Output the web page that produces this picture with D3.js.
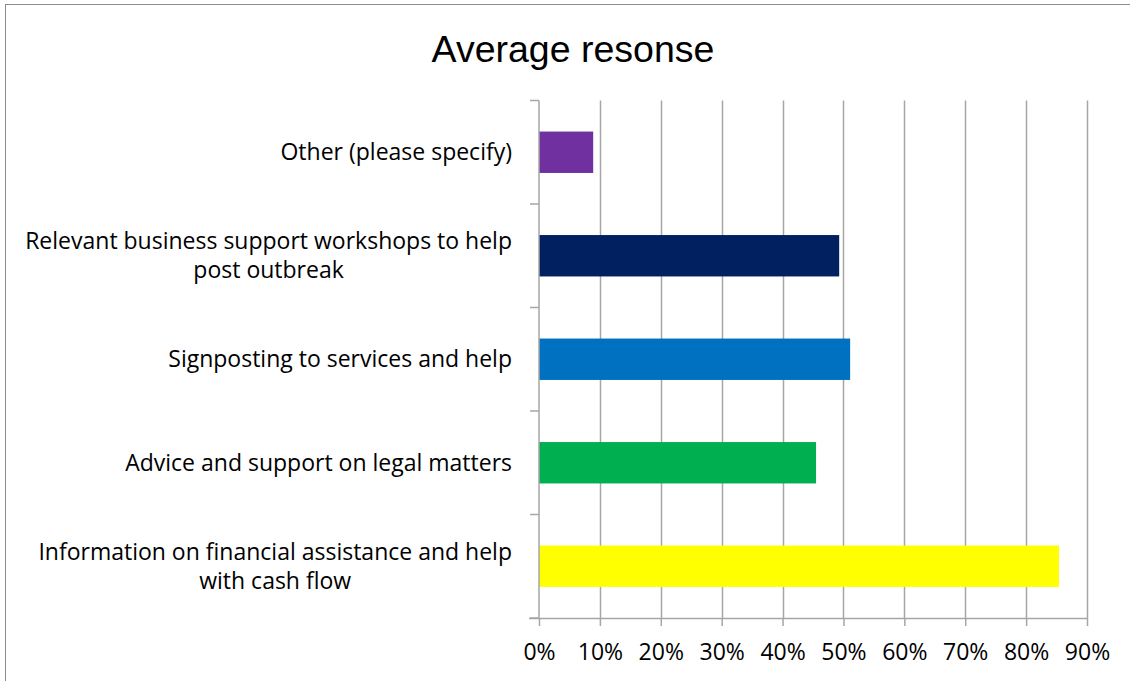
<!DOCTYPE html>
<html>
<head>
<meta charset="utf-8">
<script src="https://cdn.jsdelivr.net/npm/d3@7"></script>
<style>
  html, body { margin: 0; padding: 0; background: #fff; }
  svg { display: block; }
  .lbl { font-family: "Open Sans", sans-serif; fill: #000; }
  .title { font-family: "Liberation Sans", Arial, sans-serif; fill: #000; }
</style>
</head>
<body>
<svg id="chart" width="1130" height="681"></svg>
<script>
// Categories listed top to bottom as drawn
const categories = [
  ["Other (please specify)"],
  ["Relevant business support workshops to help", "post outbreak"],
  ["Signposting to services and help"],
  ["Advice and support on legal matters"],
  ["Information on financial assistance and help", "with cash flow"]
];
const values = [0.089, 0.493, 0.511, 0.455, 0.854];
const barColors = ["#7030A0", "#002060", "#0070C0", "#00B050", "#FFFF00"];
const xTicks = [0, 0.1, 0.2, 0.3, 0.4, 0.5, 0.6, 0.7, 0.8, 0.9];
const titleText = "Average resonse";

const svg = d3.select("#chart");
const W = 1130, H = 681;
const plot = { left: 539, right: 1087, top: 100.5, bottom: 618 };
const gridColor = "#a6a6a6";

// Outer chart border
svg.append("rect")
  .attr("x", 5.5).attr("y", 4.5)
  .attr("width", W + 10).attr("height", H + 10)
  .attr("fill", "none").attr("stroke", "#8c8c8c").attr("stroke-width", 1);

svg.append("text").attr("class", "title")
  .attr("x", 573).attr("y", 62)
  .attr("text-anchor", "middle")
  .attr("font-size", 37.5)
  .text(titleText);

const x = d3.scaleLinear().domain([0, 0.9]).range([plot.left, plot.right]);
const y = d3.scaleBand()
  .domain(d3.range(categories.length))
  .range([plot.top, plot.bottom])
  .paddingInner(0.6).paddingOuter(0.3);

// Vertical gridlines
svg.append("g").selectAll("line")
  .data(xTicks.slice(1))
  .join("line")
  .attr("x1", d => Math.round(x(d)) + 0.5).attr("x2", d => Math.round(x(d)) + 0.5)
  .attr("y1", plot.top).attr("y2", plot.bottom)
  .attr("stroke", gridColor).attr("stroke-width", 1.5);

// Bars
svg.append("g").selectAll("rect")
  .data(values)
  .join("rect")
  .attr("x", x(0))
  .attr("y", (d, i) => y(i))
  .attr("width", d => x(d) - x(0))
  .attr("height", y.bandwidth())
  .attr("fill", (d, i) => barColors[i]);

// Bottom axis
const xAxis = d3.axisBottom(x)
  .tickValues(xTicks)
  .tickFormat(d3.format(".0%"))
  .tickSizeInner(8).tickSizeOuter(0).tickPadding(18);
const gx = svg.append("g").attr("transform", `translate(0,${plot.bottom})`).call(xAxis);
gx.select(".domain").attr("stroke", gridColor).attr("stroke-width", 1.5)
  .attr("d", `M${plot.left - 10},0.5H${plot.right}`);
gx.selectAll(".tick line").attr("stroke", gridColor).attr("stroke-width", 1.5);
gx.selectAll(".tick text").attr("class", "lbl").attr("font-size", 23)
  .attr("fill", "#000").attr("font-family", "'Open Sans', sans-serif");

// Left axis with category boundary ticks
const boundaries = d3.range(categories.length + 1).map(i => plot.top + i * y.step());
svg.append("line")
  .attr("x1", plot.left).attr("x2", plot.left)
  .attr("y1", plot.top).attr("y2", plot.bottom)
  .attr("stroke", gridColor).attr("stroke-width", 1.5);
svg.append("g").selectAll("line")
  .data(boundaries)
  .join("line")
  .attr("x1", plot.left - 9).attr("x2", plot.left)
  .attr("y1", d => d).attr("y2", d => d)
  .attr("stroke", gridColor).attr("stroke-width", 1.5);

// Category labels: right-aligned block, lines centred within it
const labelRight = 512;
const lineH = 29;
const fontSize = 23;
const labels = svg.append("g");
categories.forEach((lines, i) => {
  const cy = y(i) + y.bandwidth() / 2;
  const g = labels.append("g");
  const texts = lines.map((ln, k) => g.append("text")
    .attr("class", "lbl")
    .attr("font-size", fontSize)
    .attr("text-anchor", "middle")
    .attr("y", cy + (k - (lines.length - 1) / 2) * lineH)
    .attr("dy", "0.35em")
    .text(ln));
  const maxW = d3.max(texts, t => t.node().getComputedTextLength());
  texts.forEach(t => t.attr("x", labelRight - maxW / 2));
});
</script>
</body>
</html>
